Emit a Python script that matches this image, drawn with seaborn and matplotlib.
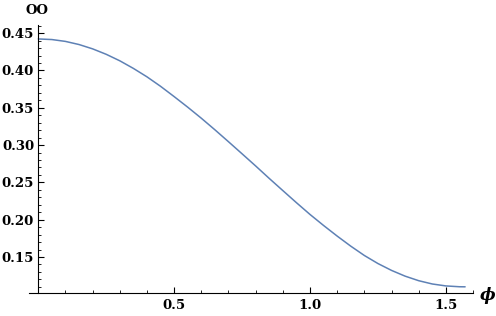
import matplotlib
matplotlib.use("Agg")
import matplotlib.pyplot as plt
import seaborn as sns
import pandas as pd
from matplotlib.ticker import MultipleLocator, FixedLocator

phi = [0.00, 0.05, 0.10, 0.15, 0.20, 0.25, 0.30, 0.35, 0.40, 0.45,
       0.50, 0.55, 0.60, 0.65, 0.70, 0.75, 0.80, 0.85, 0.90, 0.95,
       1.00, 1.05, 1.10, 1.15, 1.20, 1.25, 1.30, 1.35, 1.40, 1.45,
       1.50, 1.55, 1.5708]
oo = [0.4423, 0.4415, 0.4390, 0.4348, 0.4290, 0.4217, 0.4130, 0.4028, 0.3915, 0.3788,
      0.3650, 0.3508, 0.3360, 0.3205, 0.3045, 0.2883, 0.2720, 0.2553, 0.2390, 0.2228,
      0.2070, 0.1922, 0.1780, 0.1645, 0.1520, 0.1412, 0.1320, 0.1243, 0.1182, 0.1138,
      0.1112, 0.1101, 0.1100]
x_ticks = [0.5, 1.0, 1.5]
x_tick_labels = ["0.5", "1.0", "1.5"]
y_ticks = [0.15, 0.20, 0.25, 0.30, 0.35, 0.40, 0.45]
y_tick_labels = ["0.15", "0.20", "0.25", "0.30", "0.35", "0.40", "0.45"]

df = pd.DataFrame({"phi": phi, "OO": oo})

sns.set_theme(style="white")
plt.rcParams["font.family"] = ["DejaVu Serif", "DejaVu Sans"]

fig = plt.figure(figsize=(4.96, 3.16), dpi=100)
ax = fig.add_axes([0.0591, 0.0718, 0.8952, 0.8491])
sns.lineplot(data=df, x="phi", y="OO", ax=ax, color="#5E81B5", linewidth=1.1)

ax.set_xlim(-0.033, 1.601)
ax.set_ylim(0.1013, 0.461)

ax.spines["top"].set_visible(False)
ax.spines["right"].set_visible(False)
ax.spines["left"].set_position(("data", 0))
for s in ("left", "bottom"):
    ax.spines[s].set_color("black")
    ax.spines[s].set_linewidth(0.8)

ax.xaxis.set_major_locator(FixedLocator(x_ticks))
ax.set_xticklabels(x_tick_labels)
ax.xaxis.set_minor_locator(MultipleLocator(0.1))
ax.yaxis.set_major_locator(FixedLocator(y_ticks))
ax.set_yticklabels(y_tick_labels)
ax.yaxis.set_minor_locator(MultipleLocator(0.01))

ax.tick_params(axis="both", which="major", direction="in", length=4, width=0.8,
               color="black", labelsize=9.5, labelcolor="black")
ax.tick_params(axis="both", which="minor", direction="in", length=2.2, width=0.6,
               color="black")
ax.tick_params(axis="x", which="both", bottom=True, pad=4)
ax.tick_params(axis="y", which="both", left=True, pad=3)
for lab in ax.get_xticklabels() + ax.get_yticklabels():
    lab.set_fontweight("bold")

ax.set_xlabel("")
ax.set_ylabel("")
fig.text(37 / 496, 1 - 11 / 316, "OO", ha="center", va="center",
         fontsize=9.5, fontweight="bold", color="black")
fig.text(488 / 496, 1 - 295 / 316, "ϕ", ha="center", va="center",
         fontsize=12, fontweight="bold", fontstyle="italic", color="black")

fig.savefig("out.png", dpi=100)
